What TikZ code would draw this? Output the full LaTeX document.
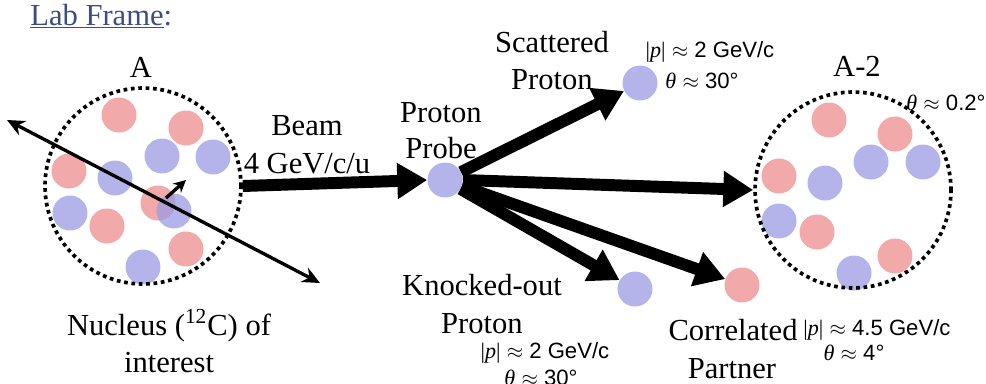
\documentclass[tikz,border=0pt]{standalone}
\usepackage{fontspec}
\setmainfont{Liberation Serif}
\setsansfont{Liberation Sans}
\usetikzlibrary{arrows.meta}
\definecolor{nred}{RGB}{236,140,140}
\definecolor{nblue}{RGB}{155,155,228}
\definecolor{linkblue}{RGB}{60,76,135}
\newcommand{\pmag}{{\rmfamily|\textit{p}|}}
\newcommand{\thet}{{\rmfamily\itshape θ}}
\newcommand{\apx}{\ $\approx$\ }
\tikzset{
  nucR/.style={circle, fill=nred, fill opacity=0.75, draw=none, minimum size=0.7cm, inner sep=0pt},
  nucB/.style={circle, fill=nblue, fill opacity=0.75, draw=none, minimum size=0.7cm, inner sep=0pt},
  nucleus/.style={circle, draw, line width=2.1pt, dash pattern=on 2.1pt off 2.1pt, minimum size=3.92cm, inner sep=0pt},
  fat/.style={line width=6.8pt, -{Triangle[length=17pt,width=19.5pt]}},
  thinarrow/.style={line width=1.9pt, {Stealth[length=10pt,width=9pt]}-{Stealth[length=10pt,width=9pt]}},
  smallarrow/.style={line width=1.9pt, -{Stealth[length=7pt,width=7pt]}},
  big/.style={font=\fontsize{17.4}{20}\selectfont, inner sep=0pt, anchor=base},
  small/.style={font=\sffamily\fontsize{12.6}{14}\selectfont, inner sep=0pt, anchor=base},
}
\begin{document}
\begin{tikzpicture}[x=0.02cm,y=-0.02cm]
\useasboundingbox (0,0) rectangle (986,383);
% title
\node[big, anchor=base west, text=linkblue] (title) at (30,25) {\underline{Lab Frame}:};
% left nucleus
\node[nucR] (l1) at (119,115) {};
\node[nucR] (l2) at (186,128) {};
\node[nucR] (l3) at (69,171) {};
\node[nucR] (l4) at (158,203) {};
\node[nucR] (l5) at (107,226) {};
\node[nucR] (l6) at (186,249) {};
\node[nucB] (l7) at (162,156) {};
\node[nucB] (l8) at (213,157) {};
\node[nucB] (l9) at (115,178) {};
\node[nucB] (l10) at (174,211) {};
\node[nucB] (l11) at (70,213) {};
\node[nucB] (l12) at (143,267) {};
\node[nucleus] (nucA) at (143,186) {};
\node[big] (labA) at (141,77) {A};
\coordinate (t1) at (7,120);
\coordinate (t2) at (320,283);
\draw[thinarrow] (t1) -- (t2);
\coordinate (s1) at (166,198);
\coordinate (s2) at (186,180);
\draw[smallarrow] (s1) -- (s2);
\node[big] (nuctxt1) at (169,335) {Nucleus (\textsuperscript{12}C) of};
\node[big] (nuctxt2) at (169,372) {interest};
% beam
\node[big] (beam1) at (307,135) {Beam};
\node[big] (beam2) at (307,173) {4 GeV/c/u};
% probe
\node[nucB] (probe) at (445,180) {};
\node[big] (pp1) at (441,122) {Proton};
\node[big] (pp2) at (441,158) {Probe};
\draw[fat] (nucA.east) -- (probe.west);
% scattered
\node[nucB] (scat) at (640,83) {};
\node[big] (sc1) at (552,52) {Scattered};
\node[big] (sc2) at (552,89) {Proton};
\node[small] (sc3) at (710,57) {\pmag\apx 2 GeV/c};
\node[small] (sc4) at (702,88) {\thet\apx 30°};
% knocked-out
\node[nucB] (ko) at (635,289) {};
\node[big] (ko1) at (482,295) {Knocked-out};
\node[big] (ko2) at (482,333) {Proton};
\node[small] (ko3) at (545,358) {\pmag\apx 2 GeV/c};
\node[small] (ko4) at (541,385) {\thet\apx 30°};
% correlated partner
\node[nucR] (cp) at (742,285) {};
\node[big] (cp1) at (733,340) {Correlated};
\node[big] (cp2) at (732,378) {Partner};
\node[small] (cp3) at (877,335) {\pmag\apx 4.5 GeV/c};
\node[small] (cp4) at (854,360) {\thet\apx 4°};
% right nucleus A-2
\node[nucR] (r1) at (829,120) {};
\node[nucR] (r2) at (895,134) {};
\node[nucR] (r3) at (779,176) {};
\node[nucR] (r4) at (817,232) {};
\node[nucR] (r5) at (895,256) {};
\node[nucB] (r6) at (871,162) {};
\node[nucB] (r7) at (923,162) {};
\node[nucB] (r8) at (825,183) {};
\node[nucB] (r9) at (779,221) {};
\node[nucB] (r10) at (854,273) {};
\node[nucleus] (nucB) at (853,190) {};
\node[big] (labB) at (857,76) {A-2};
\node[small, anchor=base west] (th) at (906,110) {\thet\apx 0.2°};
% arrows from probe
\draw[fat] (probe) -- (scat);
\draw[fat] (probe.east) -- (nucB.west);
\draw[fat] (probe) -- (ko);
\draw[fat] (probe) -- (cp);
\end{tikzpicture}
\end{document}
